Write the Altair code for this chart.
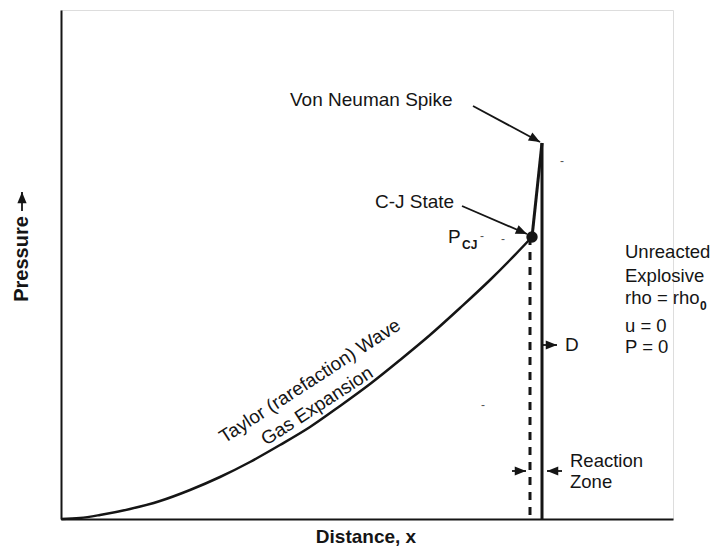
import altair as alt
import pandas as pd

# ---- data (distance, pressure) ----
wave_x = [0, 19, 39, 69, 99, 129, 159, 189, 219, 249, 279, 309, 339, 369, 399, 429, 449, 471]
wave_p = [0, 1, 4, 10, 18, 29, 42, 57, 74, 92, 113, 135, 159, 184, 211, 239, 259, 282]

cj_x = [471]
cj_p = [282]

spike_x = [471, 481]
spike_p = [282, 376]

front_x = [481, 481]
front_p = [376, 0]

zone_x = [469, 469]
zone_p = [282, 0]

# arrows: start -> tip
arrow_x1 = [412, 401, 481, 451, 501, -39]
arrow_p1 = [413, 313, 174, 48, 48, 308]
arrow_x2 = [479, 466, 496, 465, 486, -39]
arrow_p2 = [377, 285, 174, 48, 48, 327]
arrow_angle = [119, 114, 90, 90, 270, 0]

# labels
label_text = ["Von Neuman Spike", "C-J State", "P", "Unreacted", "Explosive",
              "rho = rho", "u = 0", "P = 0", "D", "Reaction", "Zone"]
label_x = [229, 314, 387, 564, 564, 564, 564, 564, 504, 509, 509]
label_p = [419, 317, 282, 267, 243, 221, 193, 172, 174, 58, 37]
label_size = [19, 19, 19, 18.5, 18.5, 18.5, 18.5, 18.5, 19, 18.5, 18.5]

sub_text = ["CJ", "0"]
sub_x = [401, 639]
sub_p = [274, 213]

taylor_text = ["Taylor (rarefaction) Wave", "Gas Expansion"]
taylor_x = [249, 256]
taylor_p = [138, 113]

specks_x = [421, 442, 501, 422]
specks_p = [283, 280, 358, 114]

FONT = "Liberation Sans, Arial, sans-serif"
INK = "#151515"

xs = alt.Scale(domain=[0, 612], nice=False, zero=False)
ys = alt.Scale(domain=[0, 509], nice=False, zero=False)
ax = alt.Axis(domain=True, domainColor=INK, domainWidth=2, ticks=False,
              labels=False, grid=False, title="")


def enc(chart, xf="x", yf="p"):
    return chart.encode(x=alt.X(f"{xf}:Q", scale=xs, axis=ax),
                        y=alt.Y(f"{yf}:Q", scale=ys, axis=ax))


wave = enc(alt.Chart(pd.DataFrame({"x": wave_x, "p": wave_p, "o": range(len(wave_x))}))
           .mark_line(color=INK, strokeWidth=2.5, interpolate="monotone")).encode(order="o:Q")
spike = enc(alt.Chart(pd.DataFrame({"x": spike_x, "p": spike_p}))
            .mark_line(color=INK, strokeWidth=3))
front = enc(alt.Chart(pd.DataFrame({"x": front_x, "p": front_p}))
            .mark_line(color=INK, strokeWidth=3))
zone = enc(alt.Chart(pd.DataFrame({"x": zone_x, "p": zone_p}))
           .mark_line(color=INK, strokeWidth=3, strokeDash=[8, 7]))
cj = enc(alt.Chart(pd.DataFrame({"x": cj_x, "p": cj_p}))
         .mark_point(filled=True, color=INK, size=130, opacity=1))

adf = pd.DataFrame({"x": arrow_x1, "p": arrow_p1, "x2": arrow_x2, "p2": arrow_p2,
                    "a": arrow_angle})
shafts = enc(alt.Chart(adf).mark_rule(color=INK, strokeWidth=1.8)).encode(
    x2="x2:Q", y2="p2:Q")
heads = alt.Chart(adf).mark_point(
    shape="M0,0L0.45,1.1L-0.45,1.1Z", filled=True, color=INK, size=420, opacity=1,
    strokeWidth=0
).encode(x=alt.X("x2:Q", scale=xs, axis=ax), y=alt.Y("p2:Q", scale=ys, axis=ax),
         angle=alt.Angle("a:Q", scale=None))

ldf = pd.DataFrame({"x": label_x, "p": label_p, "t": label_text, "s": label_size})
labels = enc(alt.Chart(ldf).mark_text(align="left", baseline="middle", font=FONT,
                                       color=INK)).encode(
    text="t:N", size=alt.Size("s:Q", scale=None, legend=None))

subs = enc(alt.Chart(pd.DataFrame({"x": sub_x, "p": sub_p, "t": sub_text}))
           .mark_text(align="left", baseline="middle", font=FONT, color=INK,
                      fontSize=12, fontWeight="bold")).encode(text="t:N")

taylor = enc(alt.Chart(pd.DataFrame({"x": taylor_x, "p": taylor_p, "t": taylor_text}))
             .mark_text(align="center", baseline="middle", font=FONT, color=INK,
                        fontSize=19, angle=327)).encode(text="t:N")

specks = enc(alt.Chart(pd.DataFrame({"x": specks_x, "p": specks_p}))
             .mark_text(text="-", font=FONT, color="#555", fontSize=12))

xtitle = alt.Chart(pd.DataFrame({"x": [305], "p": [-18], "t": ["Distance, x"]})).mark_text(
    align="center", baseline="middle", font=FONT, color=INK, fontSize=19, fontWeight="bold"
).encode(x=alt.X("x:Q", scale=xs, axis=ax), y=alt.Y("p:Q", scale=ys, axis=ax), text="t:N")

ytitle = alt.Chart(pd.DataFrame({"x": [-39], "p": [260], "t": ["Pressure"]})).mark_text(
    align="center", baseline="middle", font=FONT, color=INK, fontSize=20, fontWeight="bold",
    angle=270
).encode(x=alt.X("x:Q", scale=xs, axis=ax), y=alt.Y("p:Q", scale=ys, axis=ax), text="t:N")

chart = alt.layer(
    wave, zone, spike, front, cj, shafts, heads, labels, subs, taylor, specks, xtitle, ytitle
).properties(
    width=612, height=509,
    autosize=alt.AutoSizeParams(type="none"),
    padding={"left": 53, "top": 2, "right": 39, "bottom": 29},
).configure_view(stroke=None).configure(background="white")

chart.save("out.html", embed_options={"renderer": "svg", "actions": False})
